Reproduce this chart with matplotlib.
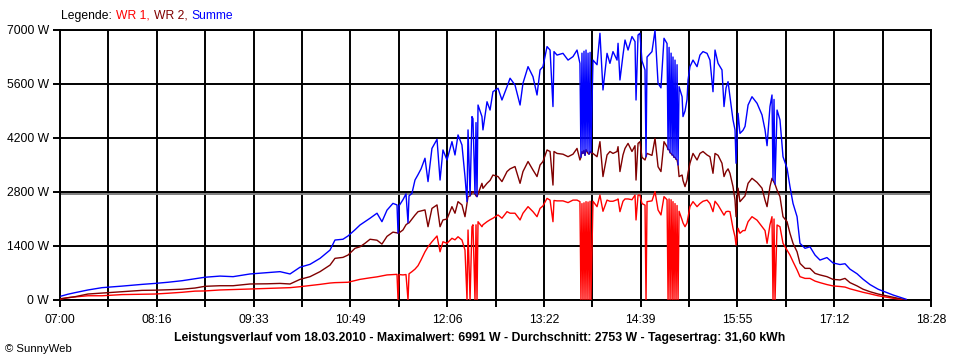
import numpy as np
import matplotlib
matplotlib.use("Agg")
import matplotlib.pyplot as plt
from matplotlib.offsetbox import TextArea, HPacker, AnchoredOffsetbox

# time in minutes after 07:00
minutes = [
    0.8, 6.3, 11.8, 22.1, 33.2, 49.0, 64.8, 75.0, 85.3, 96.4, 106.6, 114.5,
    126.4, 136.7, 150.1, 163.5, 173.8, 181.7, 189.6, 197.5, 205.4, 213.3, 217.2, 223.5, 227.5,
    233.0, 237.0, 240.9, 244.9, 250.4, 254.3, 258.3, 263.0, 266.2, 267.0, 267.8, 270.9,
    273.3, 274.9, 275.7, 278.0, 280.4, 282.8, 285.2, 288.3, 290.7, 293.8, 297.8, 300.2,
    302.5, 305.7, 309.6, 312.0, 314.4, 317.5, 319.9, 321.5, 322.3, 323.9, 325.4, 326.2,
    327.8, 328.6, 329.4, 330.2, 333.3, 334.1, 337.3, 339.7, 342.0, 346.0, 349.1, 353.1,
    355.5, 359.4, 363.4, 365.7, 369.7, 373.6, 376.8, 379.2, 381.5,
    384.7, 387.1, 389.4, 390.2, 392.6, 397.3, 401.3, 405.2, 408.4, 410.7, 411.5, 412.3,
    413.1, 413.9, 414.7, 415.5, 416.3, 417.1, 417.9, 418.7, 419.4, 421.0, 424.2, 426.5,
    428.9, 432.1, 434.4, 436.8, 440.0, 440.8, 442.3, 444.7, 446.3, 448.7, 451.8, 454.2,
    455.0, 456.6, 458.1,
    459.7, 462.1, 462.9, 463.7, 467.6, 470.0, 472.4, 474.7, 477.1, 479.5, 480.3, 481.1,
    481.9, 482.7, 483.5, 484.2, 485.0, 485.8, 486.6, 487.4, 488.2, 489.0, 491.4, 492.1,
    493.7, 495.3, 496.1, 497.6, 500.0, 503.2, 505.5, 507.9, 511.1, 513.4, 515.8, 517.4,
    519.8, 522.9, 524.5, 526.1, 527.7, 529.2, 531.6, 533.2, 534.0, 535.6, 537.1, 539.5,
    541.1, 543.5, 546.6, 550.6, 554.5, 556.9, 558.5, 560.8, 562.4, 563.2, 564.0, 564.8,
    566.4, 568.7, 571.1, 574.3, 576.6, 579.0, 582.2, 584.5, 588.5, 592.4, 596.4, 600.3,
    605.8, 610.6, 616.1, 620.1, 624.0, 629.6, 634.3, 639.8, 646.2, 653.3, 658.0, 663.5,
    668.3,
]

wr1 = [
    25, 60, 80, 110, 110, 140, 150, 155, 175, 200, 230, 235,
    260, 270, 285, 300, 310, 320, 345, 375, 405, 440, 450, 455, 460,
    505, 535, 555, 575, 600, 625, 650, 660, 665, 0, 660, 650,
    660, 0, 680, 735, 800, 890, 1040, 1250, 1380, 1510, 1660, 1250,
    1510, 1470, 1600, 1560, 1640, 1555, 1295, 0, 1815, 0, 1900, 1950,
    0, 1950, 0, 2030, 1900, 1950, 2030, 2080, 2120, 2205, 2120, 2290,
    2250, 2250, 2075, 2250, 2420, 2290, 2160, 2375, 2440,
    2635, 2590, 2030, 2580, 2570, 2570, 2525, 2590, 2590, 2550, 0, 2500,
    0, 2520, 0, 2550, 0, 2540, 0, 2560, 0, 2560, 2420, 2720,
    2300, 2590, 2560, 2560, 2600, 2620, 2290, 2560, 2620, 2620, 2600, 2720,
    2075, 2720, 2720,
    2500, 2460, 0, 2550, 2570, 2810, 2335, 2205, 2680, 2600, 0, 2620,
    0, 2600, 0, 2550, 0, 2500, 0, 2450, 0, 2300, 2075, 2000,
    1900, 2000, 2150, 2420, 2550, 2420, 2500, 2560, 2590, 2500, 2290, 2560,
    2460, 2290, 2200, 2290, 2300, 2290, 1860, 1640, 1425, 1860, 1730, 1800,
    1800, 2030, 2160, 2070, 1900, 1800, 1470, 1950, 2160, 0, 2100, 0,
    1945, 1900, 1470, 1295, 1165, 995, 780, 605, 560, 560, 490, 450,
    400, 365, 350, 335, 290, 240, 200, 160, 110, 70, 45, 20,
    0,
]

wr2 = [
    35, 60, 85, 155, 180, 215, 250, 255, 265, 280, 310, 355,
    370, 370, 415, 420, 430, 415, 535, 605, 735, 905, 1080, 1105, 1165,
    1340, 1380, 1470, 1575, 1550, 1450, 1650, 1760, 1740, 1735, 1740, 1815,
    1950, 1990, 2000, 2100, 2200, 2290, 2310, 2335, 1900, 2375, 2465, 1900,
    2075, 2100, 2420, 2250, 2550, 2465, 2160, 2500, 2680, 2700, 2780, 2810,
    2750, 2700, 2680, 2750, 3025, 2895, 3025, 3100, 3240, 3200, 3070, 3330,
    3400, 3460, 3025, 3330, 3590, 3370, 3200, 3500, 3590,
    3890, 3850, 2980, 3850, 3800, 3780, 3715, 3780, 3930, 3630, 3700, 3850,
    3800, 3880, 3750, 3900, 3850, 3800, 3780, 3850, 3820, 3800, 3715, 4105,
    3200, 3760, 3850, 3800, 3850, 3975, 3330, 3760, 3930, 4060, 3850, 4000,
    3110, 4060, 4105,
    3700, 3630, 3715, 3800, 3750, 4190, 3455, 3330, 4105, 3975, 3900, 3900,
    3820, 3800, 3760, 3760, 3700, 3700, 3650, 3630, 3500, 3200, 3240, 3100,
    2940, 3110, 3300, 3545, 3800, 3630, 3800, 3850, 3760, 3715, 3285, 3800,
    3750, 3545, 3200, 3330, 3400, 3285, 2940, 2590, 2160, 2900, 2550, 2640,
    2700, 3025, 3155, 3050, 2900, 2590, 2420, 2940, 3155, 3100, 3050, 3000,
    2850, 2680, 2160, 2030, 1730, 1470, 1250, 950, 820, 820, 690, 650,
    605, 535, 520, 560, 450, 365, 280, 215, 155, 105, 70, 35,
    0,
]

summe = [
    100, 150, 190, 260, 320, 360, 405, 430, 460, 500, 550, 590,
    620, 605, 675, 710, 735, 675, 850, 925, 1080, 1295, 1555, 1575, 1660,
    1820, 1945, 2030, 2120, 2250, 2030, 2330, 2505, 2465, 1735, 2440, 2600,
    2750, 2000, 2700, 2765, 3110, 3250, 3400, 3675, 3070, 3930, 4165, 3110,
    3890, 3630, 4105, 3760, 4280, 4020, 3200, 2550, 4410, 2700, 4755, 4700,
    2750, 4600, 2680, 5055, 4755, 4410, 5140, 4925, 5400, 5490, 5185, 5530,
    5750, 5575, 5055, 5620, 6050, 5790, 5315, 5965, 6050,
    6570, 6480, 5015, 6440, 6350, 6395, 6220, 6310, 6480, 6135, 3700, 6400,
    3800, 6450, 3750, 6480, 3850, 6400, 3780, 6420, 3820, 6220, 6100, 6915,
    5445, 6395, 6135, 6440, 6220, 6655, 5705, 6350, 6740, 6480, 6830, 6700,
    5185, 6870, 6915,
    6200, 5965, 3715, 6300, 6440, 6990, 5620, 5500, 6785, 6650, 3900, 6550,
    3820, 6400, 3760, 6300, 3700, 6220, 3650, 6100, 3500, 5530, 5270, 4755,
    4900, 5200, 5705, 6050, 6220, 6050, 6350, 6440, 6395, 6220, 5400, 6480,
    6135, 5965, 5015, 5500, 5660, 5270, 4670, 4410, 3545, 4840, 4320, 4400,
    4500, 5055, 5270, 5100, 4800, 4410, 4000, 5015, 5315, 3100, 5200, 3000,
    4925, 4670, 3715, 3415, 2940, 2505, 2160, 1470, 1340, 1380, 1165, 1035,
    1100, 960, 920, 940, 800, 680, 540, 400, 280, 190, 130, 70,
    20,
]

x_tick_labels = ["07:00", "08:16", "09:33", "10:49", "12:06",
                 "13:22", "14:39", "15:55", "17:12", "18:28"]
y_ticks = [0, 1400, 2800, 4200, 5600, 7000]
average_w = 2753
title = ("Leistungsverlauf vom 18.03.2010 - Maximalwert: 6991 W - "
         "Durchschnitt: 2753 W - Tagesertrag: 31,60 kWh")

plt.rcParams['font.family'] = ['Liberation Sans', 'DejaVu Sans']
plt.rcParams['font.size'] = 8.7

fig = plt.figure(figsize=(9.6, 3.6), dpi=100)
ax = fig.add_axes([60 / 960, 1 - 300 / 360, 871 / 960, 270 / 360])

span = 688  # 07:00 -> 18:28
grid_x = np.linspace(0, span, 19)
ax.set_xlim(0, span)
ax.set_ylim(0, 7000)

ax.set_xticks(grid_x)
labels = []
for i in range(19):
    labels.append(x_tick_labels[i // 2] if i % 2 == 0 else "")
ax.set_xticklabels(labels)
ax.set_yticks(y_ticks)
ax.set_yticklabels([f"{v} W" for v in y_ticks])
ax.tick_params(axis='both', length=5, width=1.4, color='black', pad=3)
ax.tick_params(axis='x', pad=5)
ax.grid(True, color='black', linewidth=1.4)
for s in ax.spines.values():
    s.set_linewidth(1.4)
    s.set_color('black')

ax.axhline(average_w, color='#808080', linewidth=1.4, zorder=2.5)
line_kw = dict(linewidth=1.0, zorder=3)
ax.plot(minutes, wr1, color='#ff0000', **line_kw)
ax.plot(minutes, wr2, color='#800000', **line_kw)
ax.plot(minutes, summe, color='#0000ff', **line_kw)

# legend line at the top
parts = [("Legende:", 'black'), ("WR 1,", '#ff0000'),
         ("WR 2,", '#800000'), ("Summe", '#0000ff')]
boxes = [TextArea(t, textprops=dict(color=c, size=8.7)) for t, c in parts]
pack = HPacker(children=boxes, align='baseline', pad=0, sep=3)
anchored = AnchoredOffsetbox(loc='lower left', child=pack, pad=0, borderpad=0,
                             frameon=False,
                             bbox_to_anchor=(61 / 960, 1 - 22 / 360),
                             bbox_transform=fig.transFigure)
fig.add_artist(anchored)

fig.text(480 / 960, 1 - 338 / 360, title, ha='center', va='center',
         fontsize=8.8, fontweight='bold')
fig.text(5 / 960, 1 - 349 / 360, "© SunnyWeb", ha='left', va='center',
         fontsize=8.2)

fig.savefig("out.png", dpi=100)
